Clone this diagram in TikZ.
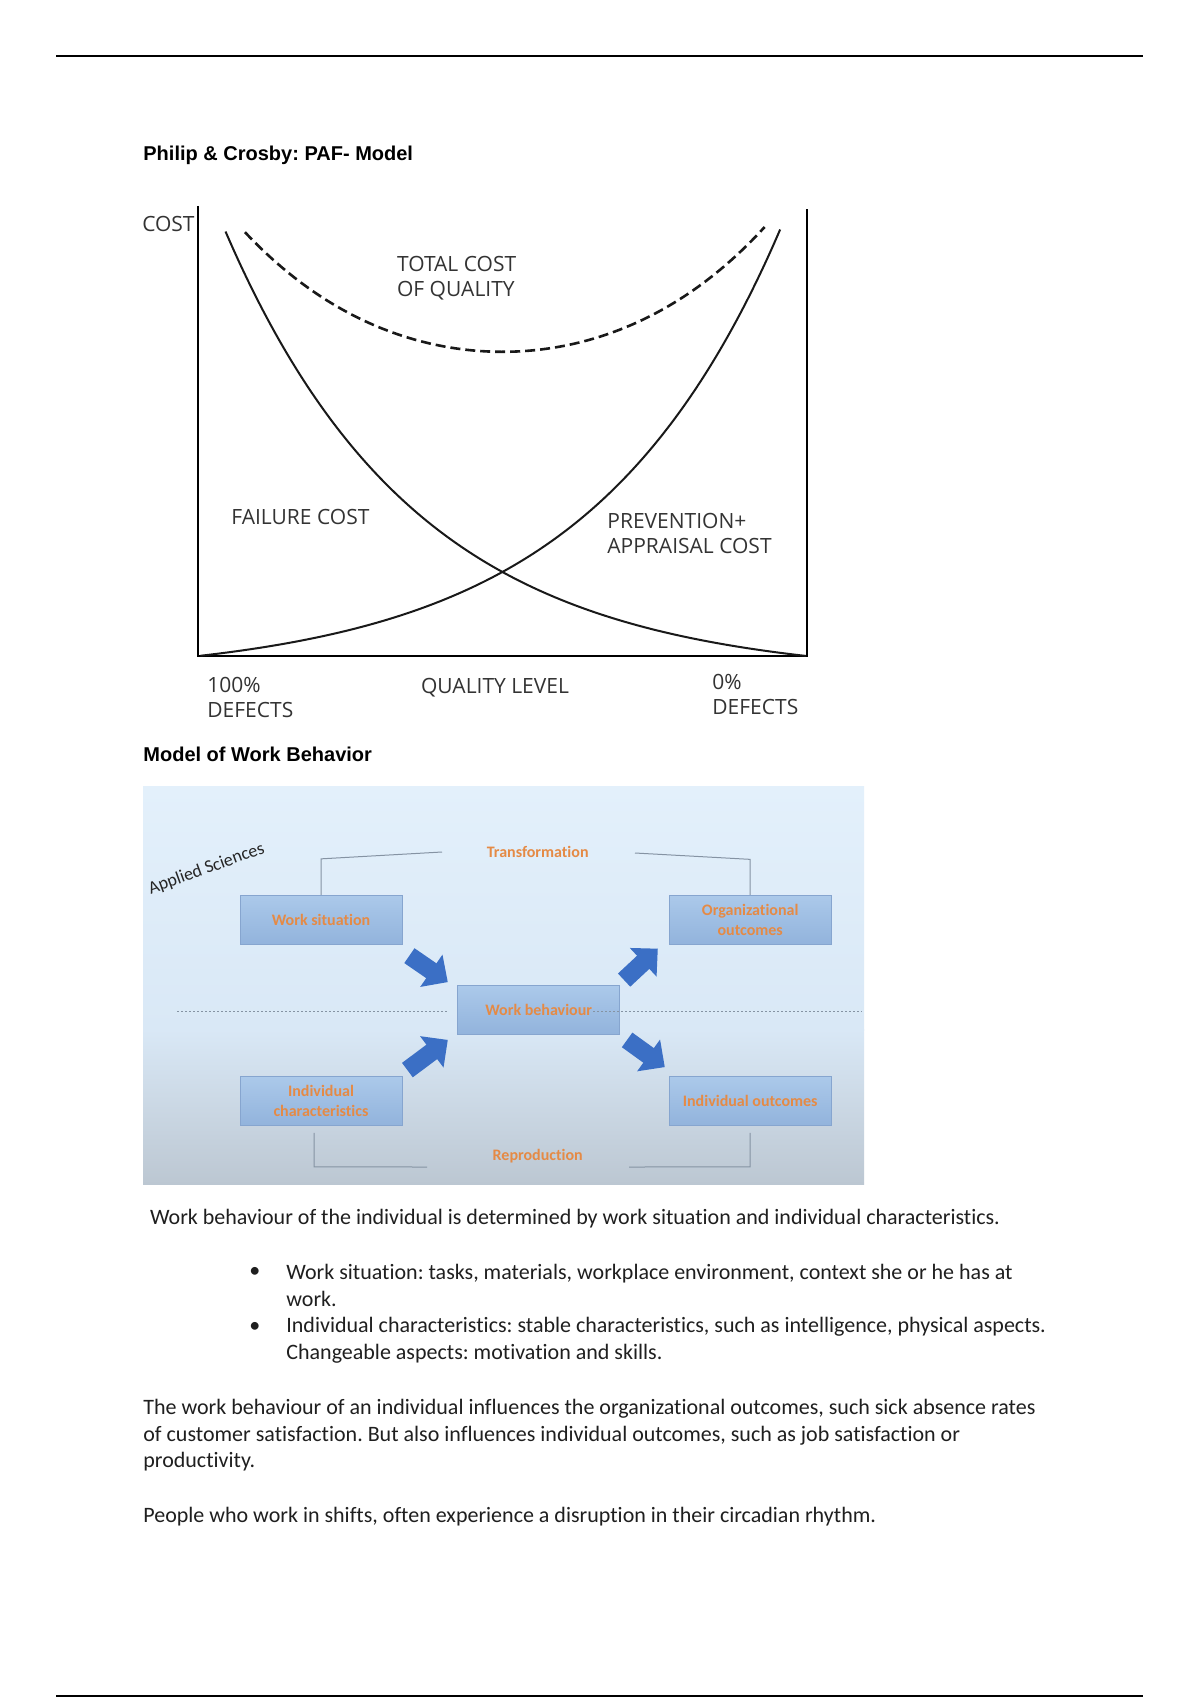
\documentclass[tikz,border=0pt]{standalone}
\usepackage{fontspec}
\setmainfont[Ligatures=NoCommon]{Carlito}
\newfontfamily\headfont{Liberation Sans}
\newfontfamily\chartfont{Open Sans}
\newfontfamily\bodyfont[Ligatures=NoCommon]{Carlito}
\usetikzlibrary{arrows.meta,calc}
\frenchspacing
\definecolor{bgtop}{HTML}{E3F0FB}
\definecolor{bgmid}{HTML}{D9E8F6}
\definecolor{bgbot}{HTML}{BCC7D2}
\definecolor{boxtop}{HTML}{ABC9EA}
\definecolor{boxbot}{HTML}{92B3DC}
\definecolor{boxline}{HTML}{86A5CF}
\definecolor{boxtext}{HTML}{E58A45}
\definecolor{arrowblue}{HTML}{3B6FC5}
\definecolor{linegray}{HTML}{8593A3}
\tikzset{
  heading/.style={font=\headfont\bfseries\fontsize{10}{12}\selectfont, anchor=west, inner sep=0},
  chartlabel/.style={font=\chartfont\fontsize{10.5}{12.5}\selectfont, text=black!80, align=left, inner sep=0},
  curve/.style={line width=1pt, black!90},
  wbbox/.style={draw=boxline, line width=0.4pt, top color=boxtop, bottom color=boxbot,
    minimum width=81pt, minimum height=24.5pt, inner sep=1pt, align=center, text=boxtext,
    font=\bfseries\fontsize{8}{10}\selectfont},
  tag/.style={text=boxtext, font=\bfseries\fontsize{8}{10}\selectfont, inner sep=0},
  bracket/.style={draw=linegray, line width=0.5pt},
  blockarrow/.style={draw=arrowblue, line width=9pt, -{Triangle[length=10pt,width=19pt]}},
  bodytext/.style={font=\bodyfont\fontsize{11}{13.3}\selectfont, anchor=west, align=left, inner sep=0, text=black!88},
}
\begin{document}
\begin{tikzpicture}[x=0.5pt, y=-0.5pt]
  \fill[white] (0,0) rectangle (1200,1700);
  \useasboundingbox (0,0) rectangle (1200,1700);

  % page rules
  \draw[line width=0.7pt] (56,56) -- (1143,56);
  \draw[line width=0.7pt] (56,1696) -- (1143,1696);

  % PAF model
  \node[heading] (title1) at (143,155) {Philip \& Crosby: PAF- Model};
  \draw[line width=1pt] (198.4,206) -- (198.4,656) -- (806.5,656) -- (806.5,209);
  \draw[curve] plot[domain=0.0446:1, samples=80, smooth]
    ({198.4+608*\x},{656-21.8*(exp(3.16*(1-\x))-1)});
  \draw[curve] plot[domain=0.0033:0.957, samples=80, smooth]
    ({198.4+608*\x},{656-21.8*(exp(3.16*\x)-1)});
  \draw[line width=1.3pt, black!90, dash pattern=on 5pt off 2.5pt] plot[domain=0.0766:0.932, samples=80, smooth]
    ({198.4+608*\x},{656-(0.545*21.8*(exp(3.16*(1-\x))+exp(3.16*\x)-2)+212.6)});
  \node[chartlabel, anchor=east] (cost) at (195,224) {COST};
  \node[chartlabel, anchor=west] (total) at (396.7,278) {TOTAL COST\\OF QUALITY};
  \node[chartlabel, anchor=west] (failure) at (231,517) {FAILURE COST};
  \node[chartlabel, anchor=west] (prevention) at (607,533) {PREVENTION+\\APPRAISAL COST};
  \node[chartlabel, anchor=west] (full) at (207,697.5) {100\%\\DEFECTS};
  \node[chartlabel] (quality) at (495,688) {QUALITY LEVEL};
  \node[chartlabel, anchor=west] (zero) at (712,694.5) {0\%\\DEFECTS};

  % work behaviour model
  \node[heading] (title2) at (143,754.5) {Model of Work Behavior};
  \shade[top color=bgtop, bottom color=bgmid] (143,786) rectangle (864,1030);
  \shade[top color=bgmid, bottom color=bgbot] (143,1029.5) rectangle (864,1184);
  \node[rotate=20, inner sep=0, text=black!85, font=\fontsize{9}{10}\selectfont] (applied) at (206.5,869) {Applied Sciences};
  \draw[linegray, line width=0.5pt, dash pattern=on 1pt off 1pt] (177,1011) -- (448,1011);

  \node[wbbox] (ws) at (321,919.75) {Work situation};
  \node[wbbox] (oo) at (750.2,919.75) {Organizational\\outcomes};
  \node[wbbox] (wb) at (538.7,1010) {Work behaviour};
  \node[wbbox] (ic) at (321,1101) {Individual\\characteristics};
  \node[wbbox] (io) at (750.2,1101) {Individual outcomes};
  \draw[linegray, line width=0.5pt, dash pattern=on 1pt off 1pt] (593,1011) -- (862,1011);

  \node[tag] (transf) at (537.7,852) {Transformation};
  \node[tag] (repro) at (537.7,1156.6) {Reproduction};
  \coordinate (tl) at (442,852);
  \coordinate (tr) at (635,853);
  \coordinate (bl) at (427,1167);
  \coordinate (br) at (629,1167);
  \draw[bracket] (ws.north) -- ++(0,-36) -- (tl);
  \draw[bracket] (oo.north) -- ++(0,-35.5) -- (tr);
  \draw[bracket] ($(ic.south)+(-7,7)$) -- ++(0,34) -- (bl);
  \draw[bracket] ($(io.south)+(0,7)$) -- ++(0,34) -- (br);

  \draw[blockarrow] ($(ws.south east)+(7,11)$) -- ($(wb.north west)+(-9.5,-3)$);
  \draw[blockarrow] ($(ic.north east)+(5,-6)$) -- ($(wb.south west)+(-9.5,5)$);
  \draw[blockarrow] ($(wb.north east)+(4,-5)$) -- ($(oo.south west)+(-11,4)$);
  \draw[blockarrow] ($(wb.south east)+(7,5)$) -- ($(io.north west)+(-4,-9)$);

  % text below
  \node[bodytext] (p1) at (149.6,1219) {Work behaviour of the individual is determined by work situation and individual characteristics.};
  \node[bodytext] (dot1) at (249,1272.5) {•};
  \node[bodytext] (item1) at (286,1285.5) {Work situation: tasks, materials, workplace environment, context she or he has at\\work.};
  \node[bodytext] (dot2) at (249,1327) {•};
  \node[bodytext] (item2) at (286,1340) {Individual characteristics: stable characteristics, such as intelligence, physical aspects.\\Changeable aspects: motivation and skills.};
  \node[bodytext] (p2) at (143,1435.5) {The work behaviour of an individual influences the organizational outcomes, such sick absence rates\\of customer satisfaction. But also influences individual outcomes, such as job satisfaction or\\productivity.};
  \node[bodytext] (p3) at (143,1517) {People who work in shifts, often experience a disruption in their circadian rhythm.};
\end{tikzpicture}
\end{document}
